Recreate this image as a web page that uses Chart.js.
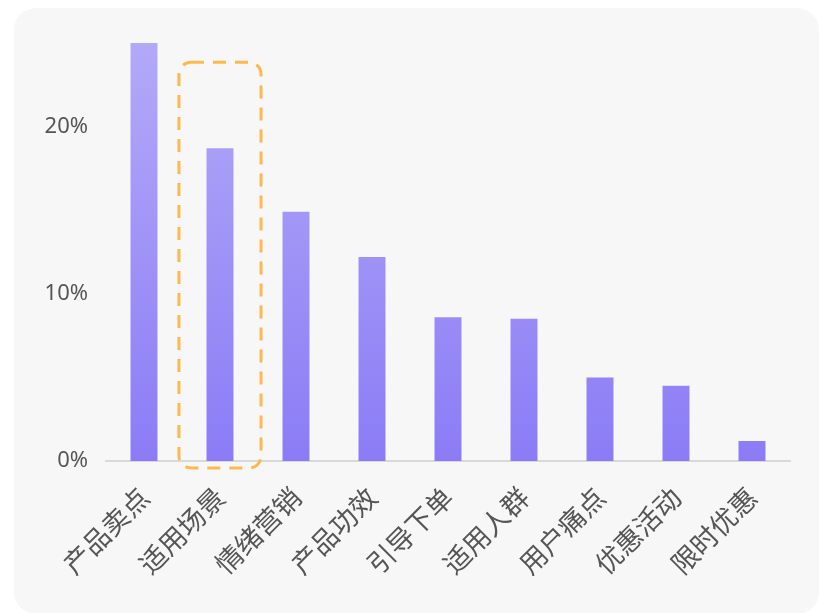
<!DOCTYPE html>
<html><head><meta charset="utf-8">
<script src="https://cdn.jsdelivr.net/npm/chart.js@4/dist/chart.umd.min.js"></script>
<style>html,body{margin:0;padding:0;background:#fff}#wrap{width:823px;height:613px;position:relative}</style>
</head><body><div id="wrap"><canvas id="c" width="823" height="613"></canvas></div>
<script>
const categories = ['产品卖点','适用场景','情绪营销','产品功效','引导下单','适用人群','用户痛点','优惠活动','限时优惠'];
const values = [25.0, 18.7, 14.9, 12.2, 8.6, 8.5, 5.0, 4.5, 1.2];
const yTicks = [0, 10, 20];
const highlightIndex = 1;

const bgPlugin = {
  id:'bg',
  beforeDraw(chart){
    const ctx = chart.ctx;
    ctx.save();
    ctx.fillStyle = '#ffffff';
    ctx.fillRect(0,0,chart.width,chart.height);
    ctx.fillStyle = '#f7f7f7';
    ctx.beginPath();
    ctx.roundRect(14, 8, 805, 606, 22);
    ctx.fill();
    ctx.restore();
  }
};
const highlightPlugin = {
  id:'hl',
  afterDatasetsDraw(chart){
    const x = chart.scales.x, y = chart.scales.y;
    const cx = x.getPixelForValue(highlightIndex);
    const half = (x.getPixelForValue(1) - x.getPixelForValue(0)) * 0.54;
    const top = y.getPixelForValue(values[highlightIndex]) - 86;
    const bottom = y.getPixelForValue(0) + 7;
    const ctx = chart.ctx;
    ctx.save();
    ctx.strokeStyle = '#ffb84d';
    ctx.lineWidth = 3;
    ctx.setLineDash([13, 9]);
    ctx.beginPath();
    ctx.roundRect(cx - half, top, half*2, bottom - top, 12);
    ctx.stroke();
    ctx.restore();
  }
};

new Chart(document.getElementById('c'), {
  type:'bar',
  data:{
    labels: categories,
    datasets:[{
      data: values,
      backgroundColor(ctx){
        const ca = ctx.chart.chartArea;
        if(!ca) return '#9b8ff6';
        const g = ctx.chart.ctx.createLinearGradient(0, ca.top, 0, ca.bottom);
        g.addColorStop(0, '#b3abf7');
        g.addColorStop(1, '#8b7cf6');
        return g;
      },
      borderWidth:0,
      barPercentage: 0.355,
      categoryPercentage: 1.0
    }]
  },
  plugins:[bgPlugin, highlightPlugin],
  options:{
    responsive:false,
    animation:false,
    layout:{padding:{top:23,right:33,left:0,bottom:0}},
    plugins:{legend:{display:false}, tooltip:{enabled:false}},
    scales:{
      x:{
        grid:{display:false, drawTicks:false},
        border:{display:true, color:'#d9d9d9', width:2},
        ticks:{
          color:'#555555', maxRotation:45, minRotation:45, padding:20,
          font:{family:'"Noto Sans CJK SC", "Noto Sans", sans-serif', size:27}
        },
        afterFit(s){ s.height = 152; }
      },
      y:{
        min:0, max:25.7,
        afterBuildTicks(s){ s.ticks = yTicks.map(v=>({value:v})); },
        grid:{display:false, drawTicks:false},
        border:{display:false},
        ticks:{
          color:'#555555', padding:18,
          font:{family:'"Noto Sans", sans-serif', size:22},
          callback:v=>v+'%'
        },
        afterFit(s){ s.width = 106; }
      }
    }
  }
});
</script></body></html>
